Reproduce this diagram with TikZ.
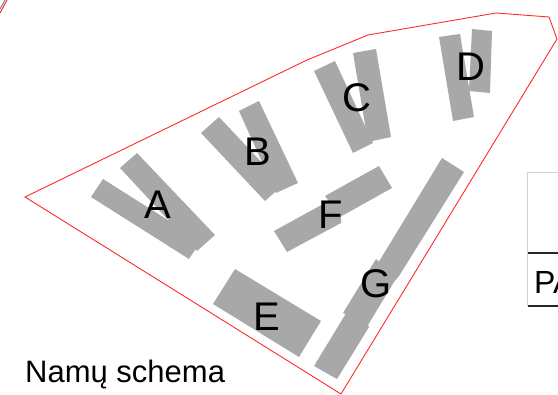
\documentclass[tikz,border=0pt]{standalone}
\usepackage{fontspec}
\setmainfont{Liberation Sans}
\tikzset{
  bldg/.style={fill=bldggray,draw=none},
  plot/.style={draw=plotred,line width=0.9pt,line join=miter},
  letter/.style={inner sep=0pt,anchor=base,font=\fontsize{40}{40}\selectfont,text=black},
  caption/.style={inner sep=0pt,anchor=base west,font=\fontsize{31}{31}\selectfont,text=black},
  frame/.style={draw=framegray,line width=1.6pt},
  rule/.style={draw=rulegray,line width=1.8pt}
}
\definecolor{bldggray}{HTML}{A8A8A8}
\definecolor{plotred}{HTML}{FF2A2A}
\definecolor{framegray}{HTML}{D2D2D2}
\definecolor{rulegray}{HTML}{262626}
\begin{document}
\begin{tikzpicture}[x=1pt,y=-1pt]
\useasboundingbox (0,0) rectangle (558,395);
\clip (0,0) rectangle (558,395);
% corner remnants
\draw[draw=gray,line width=1pt] (5,0) -- (0,9);
\draw[draw=plotred,line width=1pt] (7,0) -- (0,13);
% buildings
\fill[bldg] (103,179) -- (91,197) -- (189,259) -- (201,241) -- cycle;
\fill[bldg] (137,153) -- (120,168) -- (197,251) -- (215,235) -- cycle;
\fill[bldg] (219,117) -- (201,133) -- (265,201) -- (283,185) -- cycle;
\fill[bldg] (259,101) -- (239,111) -- (276,193) -- (298,183) -- cycle;
\fill[bldg] (335,61) -- (314,71) -- (353,153) -- (373,143) -- cycle;
\fill[bldg] (376,49) -- (353,53) -- (368,142) -- (391,137) -- cycle;
\fill[bldg] (460,34) -- (439,37) -- (453,121) -- (474,117) -- cycle;
\fill[bldg] (492,31) -- (472,29) -- (469,91) -- (490,93) -- cycle;
\fill[bldg] (235,269) -- (213,304) -- (299,357) -- (321,321) -- cycle;
\fill[bldg] (379,166) -- (392,188) -- (340,217) -- (325,196) -- cycle;
\fill[bldg] (336,197) -- (341,215) -- (341,223) -- (287,252) -- (274,231) -- cycle;
\fill[bldg] (442,158) -- (464,172) -- (399,276) -- (392,284) -- (372,272) -- (380,260) -- cycle;
\fill[bldg] (376,259) -- (397,277) -- (368,325) -- (343,313) -- cycle;
\fill[bldg] (345,315) -- (352,304) -- (366,320) -- (369,327) -- (337,379) -- (314,366) -- cycle;
% plot outline
\draw[plot] (25,197) -- (307,60) -- (368,35) -- (496,13) -- (549,17) -- (557,39) -- (341,394) -- cycle;
% labels
\node[letter] (la) at (158,219) {A};
\node[letter] (lb) at (257.5,166) {B};
\node[letter] (lc) at (357,112) {C};
\node[letter] (ld) at (471,81) {D};
\node[letter] (le) at (267,331) {E};
\node[letter] (lf) at (331,229) {F};
\node[letter] (lg) at (376,298) {G};
\node[caption] (cap) at (25,383) {Namų schema};
% table fragment
\draw[frame] (558,172.5) -- (527.5,172.5) -- (527.5,306);
\draw[rule] (528,253) -- (558,253);
\draw[rule] (528,306) -- (558,306);
\node[inner sep=0pt,anchor=base west,font=\fontsize{32}{32}\selectfont] (pa) at (534,294) {PA};
\end{tikzpicture}
\end{document}
